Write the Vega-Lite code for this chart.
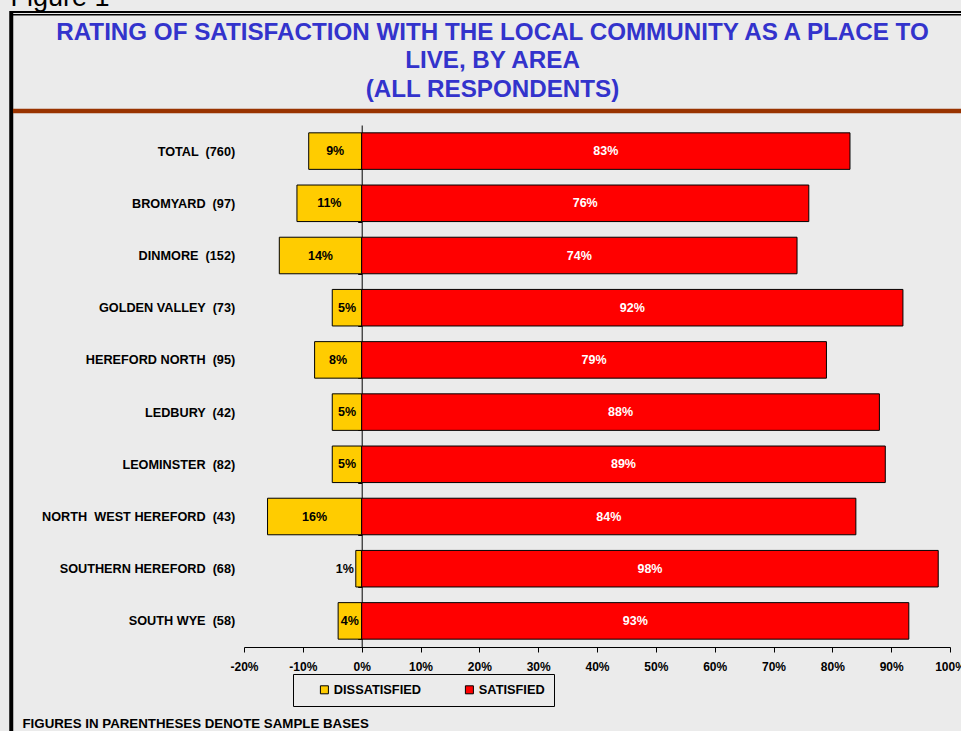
{
  "$schema": "https://vega.github.io/schema/vega-lite/v6.json",
  "width": 706,
  "height": 522,
  "autosize": {"type": "none"},
  "padding": {"left": 244, "top": 125, "right": 11, "bottom": 84},
  "background": "#ebebeb",
  "title": {
    "text": ["RATING OF SATISFACTION WITH THE LOCAL COMMUNITY AS A PLACE TO", "LIVE, BY AREA", "(ALL RESPONDENTS)"],
    "anchor": "middle",
    "frame": "group",
    "font": "Liberation Sans",
    "fontSize": 24.2,
    "fontWeight": "bold",
    "color": "#3333cc",
    "lineHeight": 28.5,
    "dx": -104.5,
    "dy": 129,
    "offset": 10
  },
  "datasets": {
    "ratings": [
      {"area": "TOTAL \u00a0(760)", "response": "DISSATISFIED", "share": -0.09},
      {"area": "TOTAL \u00a0(760)", "response": "SATISFIED", "share": 0.83},
      {"area": "BROMYARD \u00a0(97)", "response": "DISSATISFIED", "share": -0.11},
      {"area": "BROMYARD \u00a0(97)", "response": "SATISFIED", "share": 0.76},
      {"area": "DINMORE \u00a0(152)", "response": "DISSATISFIED", "share": -0.14},
      {"area": "DINMORE \u00a0(152)", "response": "SATISFIED", "share": 0.74},
      {"area": "GOLDEN VALLEY \u00a0(73)", "response": "DISSATISFIED", "share": -0.05},
      {"area": "GOLDEN VALLEY \u00a0(73)", "response": "SATISFIED", "share": 0.92},
      {"area": "HEREFORD NORTH \u00a0(95)", "response": "DISSATISFIED", "share": -0.08},
      {"area": "HEREFORD NORTH \u00a0(95)", "response": "SATISFIED", "share": 0.79},
      {"area": "LEDBURY \u00a0(42)", "response": "DISSATISFIED", "share": -0.05},
      {"area": "LEDBURY \u00a0(42)", "response": "SATISFIED", "share": 0.88},
      {"area": "LEOMINSTER \u00a0(82)", "response": "DISSATISFIED", "share": -0.05},
      {"area": "LEOMINSTER \u00a0(82)", "response": "SATISFIED", "share": 0.89},
      {"area": "NORTH \u00a0WEST HEREFORD \u00a0(43)", "response": "DISSATISFIED", "share": -0.16},
      {"area": "NORTH \u00a0WEST HEREFORD \u00a0(43)", "response": "SATISFIED", "share": 0.84},
      {"area": "SOUTHERN HEREFORD \u00a0(68)", "response": "DISSATISFIED", "share": -0.01},
      {"area": "SOUTHERN HEREFORD \u00a0(68)", "response": "SATISFIED", "share": 0.98},
      {"area": "SOUTH WYE \u00a0(58)", "response": "DISSATISFIED", "share": -0.04},
      {"area": "SOUTH WYE \u00a0(58)", "response": "SATISFIED", "share": 0.93}
    ]
  },
  "layer": [
    {
      "data": {"values": [{}]},
      "layer": [
        {
          "mark": {"type": "rule", "color": "black", "strokeWidth": 4},
          "encoding": {
            "x": {"datum": -0.5956, "type": "quantitative", "scale": {"domain": [-0.2, 1], "nice": false}, "axis": null},
            "y": {"datum": 1.2184, "type": "quantitative", "scale": {"domain": [0, 1], "nice": false, "zero": false}, "axis": null},
            "y2": {"datum": -0.1609}
          }
        },
        {
          "mark": {"type": "rule", "color": "black", "strokeWidth": 2},
          "encoding": {
            "x": {"datum": -0.5977, "type": "quantitative", "scale": {"domain": [-0.2, 1], "nice": false}, "axis": null},
            "x2": {"datum": 1.0187},
            "y": {"datum": 1.2165, "type": "quantitative", "scale": {"domain": [0, 1], "nice": false, "zero": false}, "axis": null}
          }
        },
        {
          "mark": {"type": "rule", "color": "black", "strokeWidth": 1.5},
          "encoding": {
            "x": {"datum": -0.5977, "type": "quantitative", "scale": {"domain": [-0.2, 1], "nice": false}, "axis": null},
            "x2": {"datum": 1.0187},
            "y": {"datum": 1.2111, "type": "quantitative", "scale": {"domain": [0, 1], "nice": false, "zero": false}, "axis": null}
          }
        },
        {
          "mark": {"type": "rule", "color": "#993300", "strokeWidth": 4.5},
          "encoding": {
            "x": {"datum": -0.5927, "type": "quantitative", "scale": {"domain": [-0.2, 1], "nice": false}, "axis": null},
            "x2": {"datum": 1.0187},
            "y": {"datum": 1.0268, "type": "quantitative", "scale": {"domain": [0, 1], "nice": false, "zero": false}, "axis": null}
          }
        }
      ]
    },
    {
      "data": {"name": "ratings"},
      "transform": [
        {"calculate": "datum.share / 2", "as": "mid"},
        {"calculate": "format(abs(datum.share), '.0%')", "as": "label"}
      ],
      "layer": [
        {
          "mark": {"type": "bar", "stroke": "black", "strokeWidth": 1},
          "encoding": {
            "y": {
              "field": "area",
              "type": "nominal",
              "sort": null,
              "scale": {"paddingInner": 0.3, "paddingOuter": 0.15},
              "axis": {
                "orient": "left",
                "offset": -117.7,
                "title": "Figure 1",
                "titleAngle": 0,
                "titleX": -351.7,
                "titleY": -120,
                "titleAlign": "left",
                "titleBaseline": "alphabetic",
                "titleFont": "Liberation Sans",
                "titleFontSize": 27,
                "titleFontWeight": "normal",
                "titleColor": "black",
                "domainColor": "black",
                "domainWidth": 1,
                "ticks": true,
                "tickBand": "extent",
                "tickSize": 4,
                "tickColor": "black",
                "labelPadding": 123,
                "labelFont": "Liberation Sans",
                "labelFontSize": 12.7,
                "labelFontWeight": "bold",
                "labelColor": "black",
                "labelLimit": 300,
                "grid": false
              }
            },
            "x": {
              "field": "share",
              "type": "quantitative",
              "stack": null,
              "scale": {"domain": [-0.2, 1], "nice": false},
              "axis": {
                "values": [-0.2, -0.1, 0, 0.1, 0.2, 0.3, 0.4, 0.5, 0.6, 0.7, 0.8, 0.9, 1],
                "format": ".0%",
                "labelExpr": "replace(datum.label, '\u2212', '-')",
                "domainColor": "black",
                "tickColor": "black",
                "tickSize": 5,
                "labelPadding": 9,
                "labelFont": "Liberation Sans",
                "labelFontSize": 12,
                "labelFontWeight": "bold",
                "labelColor": "black",
                "labelFlush": false,
                "labelOverlap": false,
                "grid": false,
                "title": "FIGURES IN PARENTHESES DENOTE SAMPLE BASES",
                "titleX": -222,
                "titleY": 80,
                "titleAlign": "left",
                "titleBaseline": "alphabetic",
                "titleFont": "Liberation Sans",
                "titleFontSize": 13.3,
                "titleFontWeight": "bold",
                "titleColor": "black"
              }
            },
            "color": {
              "field": "response",
              "type": "nominal",
              "scale": {"domain": ["DISSATISFIED", "SATISFIED"], "range": ["#ffcc00", "#ff0000"]},
              "legend": {
                "title": null,
                "orient": "none",
                "legendX": 49,
                "legendY": 549,
                "direction": "horizontal",
                "columns": 2,
                "symbolType": "square",
                "symbolSize": 64,
                "symbolStrokeColor": "black",
                "symbolStrokeWidth": 1,
                "symbolOffset": 16,
                "labelOffset": 3,
                "labelFont": "Liberation Sans",
                "labelFontSize": 12.8,
                "labelFontWeight": "bold",
                "labelColor": "black",
                "columnPadding": 25,
                "gridAlign": "all",
                "padding": 9,
                "strokeColor": "black"
              }
            }
          }
        },
        {
          "mark": {"type": "text", "font": "Liberation Sans", "fontSize": 12.5, "fontWeight": "bold"},
          "encoding": {
            "y": {"field": "area", "type": "nominal", "sort": null},
            "x": {"field": "mid", "type": "quantitative"},
            "text": {"condition": {"test": "abs(datum.share) < 0.02", "value": ""}, "field": "label"},
            "color": {"condition": {"test": "datum.response === 'SATISFIED'", "value": "white"}, "value": "black"}
          }
        },
        {
          "mark": {"type": "text", "font": "Liberation Sans", "fontSize": 12.5, "fontWeight": "bold", "align": "right", "dx": -2},
          "encoding": {
            "y": {"field": "area", "type": "nominal", "sort": null},
            "x": {"field": "share", "type": "quantitative"},
            "text": {"condition": {"test": "abs(datum.share) >= 0.02", "value": ""}, "field": "label"},
            "color": {"value": "black"}
          }
        }
      ]
    }
  ],
  "resolve": {"scale": {"y": "independent"}, "axis": {"x": "independent"}},
  "config": {"view": {"stroke": null}}
}
